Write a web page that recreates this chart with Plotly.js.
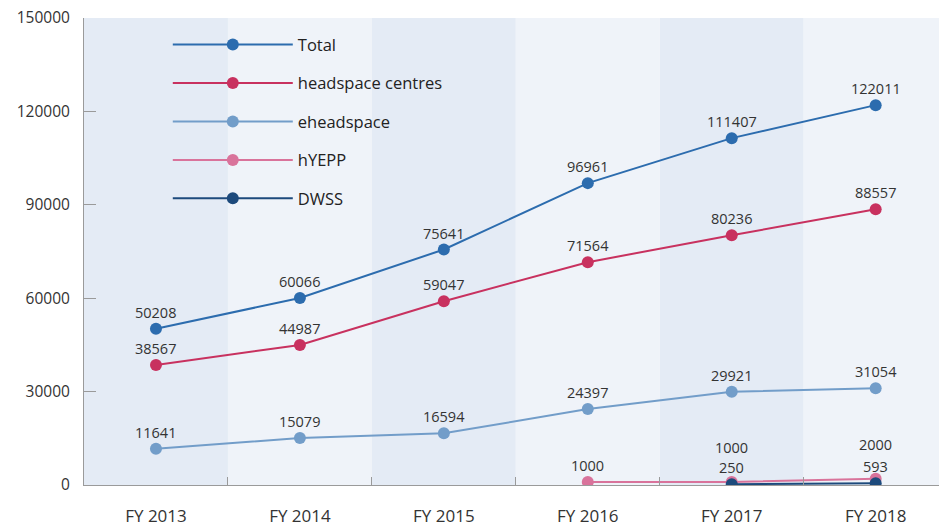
<!DOCTYPE html>
<html>
<head>
<meta charset="utf-8">
<script src="https://cdn.plot.ly/plotly-3.0.1.min.js"></script>
<style>
  html, body { margin: 0; padding: 0; background: #ffffff; }
  #chart { width: 939px; height: 528px; }
</style>
</head>
<body>
<div id="chart"></div>
<script>
const years = ["FY 2013", "FY 2014", "FY 2015", "FY 2016", "FY 2017", "FY 2018"];

const total = [50208, 60066, 75641, 96961, 111407, 122011];
const headspaceCentres = [38567, 44987, 59047, 71564, 80236, 88557];
const eheadspace = [11641, 15079, 16594, 24397, 29921, 31054];
const hyepp = [null, null, null, 1000, 1000, 2000];
const dwss = [null, null, null, null, 250, 593];

const yTicks = [0, 30000, 60000, 90000, 120000, 150000];

const seriesList = [
    { name: "Total", values: total, color: "#2c6cae" },
    { name: "headspace centres", values: headspaceCentres, color: "#c8315f" },
    { name: "eheadspace", values: eheadspace, color: "#729dc9" },
    { name: "hYEPP", values: hyepp, color: "#d9739b" },
    { name: "DWSS", values: dwss, color: "#1d4a7c" }
];

const traces = seriesList.map((s) => ({
    x: years,
    y: s.values,
    type: "scatter",
    mode: "lines+markers",
    name: s.name,
    legendgroup: s.name,
    line: { color: s.color, width: 2 },
    marker: { color: s.color, size: 12 },
    connectgaps: false,
    hoverinfo: "skip"
}));

// value labels above the points; hYEPP is lifted where DWSS sits underneath it
const annotations = [];
seriesList.forEach((s) => {
    s.values.forEach((v, i) => {
        if (v === null) return;
        let shift = 5;
        if (s.name === "hYEPP" && dwss[i] !== null) shift = 23;
        annotations.push({
            x: years[i],
            y: v,
            xref: "x",
            yref: "y",
            text: String(v),
            showarrow: false,
            yanchor: "bottom",
            yshift: shift,
            font: { size: 14.5, color: "#333333" }
        });
    });
});

// alternating column bands
const shapes = years.map((label, i) => ({
    type: "rect",
    xref: "x",
    yref: "paper",
    x0: i - 0.5,
    x1: i + 0.5,
    y0: 0,
    y1: 1,
    fillcolor: i % 2 === 0 ? "#e4ebf5" : "#eff3f9",
    line: { width: 0 },
    layer: "below"
}));

const layout = {
    width: 939,
    height: 528,
    margin: { l: 84, r: 0, t: 18, b: 43 },
    paper_bgcolor: "#ffffff",
    plot_bgcolor: "#ffffff",
    font: { family: "Open Sans, sans-serif", color: "#333333" },
    showlegend: true,
    legend: {
        x: 0.098,
        y: 0.98,
        xanchor: "left",
        yanchor: "top",
        bgcolor: "rgba(0,0,0,0)",
        font: { size: 16.5, color: "#222222" },
        tracegroupgap: 14,
        itemwidth: 120
    },
    xaxis: {
        type: "category",
        range: [-0.5, 5.44],
        showgrid: false,
        zeroline: false,
        showline: true,
        linecolor: "#9a9a9a",
        linewidth: 1,
        ticks: "inside",
        tickson: "boundaries",
        ticklen: 8,
        tickcolor: "#9a9a9a",
        tickfont: { size: 17, color: "#333333" },
        ticklabelstandoff: 16
    },
    yaxis: {
        range: [0, 150000],
        tickvals: yTicks,
        ticktext: yTicks.map(String),
        showgrid: false,
        zeroline: false,
        showline: true,
        linecolor: "#9a9a9a",
        linewidth: 1,
        ticks: "inside",
        ticklen: 12,
        tickcolor: "#9a9a9a",
        tickfont: { size: 15.5, color: "#333333" },
        ticklabelstandoff: 10
    },
    shapes: shapes,
    annotations: annotations
};

Plotly.newPlot("chart", traces, layout, { staticPlot: true });
</script>
</body>
</html>
